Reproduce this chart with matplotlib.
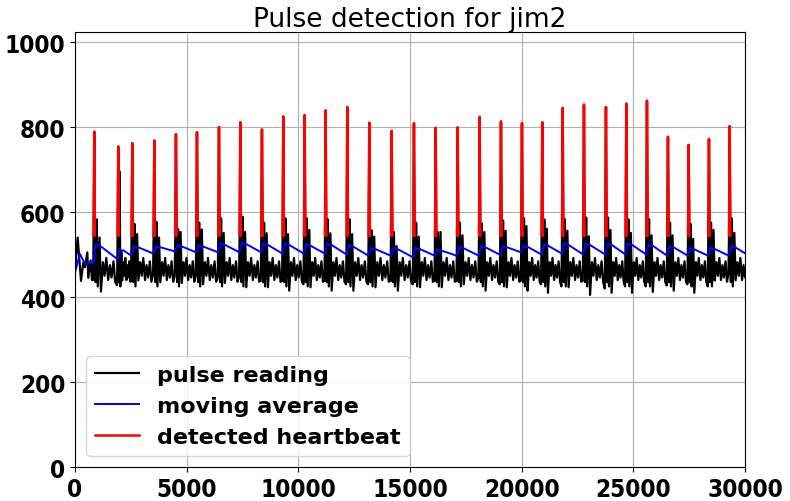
import numpy as np
import matplotlib
matplotlib.use("Agg")
import matplotlib.pyplot as plt
from matplotlib import font_manager as fm

# peak positions (ms) and heights
peak_t = [864, 1939, 2566, 3551, 4522, 5463, 6448, 7402, 8373, 9327,
          10285, 11225, 12193, 13178, 14181, 15179, 16151, 17136, 18121, 19075,
          20015, 20924, 21838, 22791, 23776, 24686, 25612, 26552, 27479, 28388,
          29315]
peak_v = [789, 754, 762, 768, 783, 788, 800, 811, 794, 825,
          828, 839, 847, 810, 791, 809, 798, 799, 824, 813,
          809, 811, 845, 853, 847, 855, 862, 777, 758, 772,
          802]
# black spike right after each red peak
spike_v = [583, 695, 572, 577, 560, 575, 585, 589, 575, 585,
           585, 583, 583, 557, 553, 575, 553, 575, 573, 580,
           585, 583, 583, 587, 587, 583, 583, 575, 572, 575,
           585]
# second black wave
wave_v = [540, 505, 548, 540, 553, 559, 551, 553, 550, 548,
          558, 550, 548, 542, 520, 542, 553, 545, 553, 556,
          567, 561, 556, 543, 558, 551, 545, 545, 537, 558,
          551]
# deepest trough of each beat
low_v = [413, 439, 439, 435, 433, 430, 433, 423, 423, 415,
         423, 415, 415, 423, 415, 423, 423, 430, 415, 423,
         415, 410, 423, 405, 410, 410, 412, 415, 410, 439,
         439]
# small bumps in the rest of a beat (shared shape)
tail_frac = [0.36, 0.43, 0.5, 0.58, 0.65, 0.72, 0.8, 0.87]
tail_v = [482, 450, 492, 440, 475, 446, 484, 436]

# trace before the first beat
start_t = [0, 120, 270, 373, 448, 552, 597, 701, 761]
start_v = [458, 540, 438, 481, 470, 505, 445, 486, 440]

# moving average: level right after each beat and just before it
ma_hi = [525, 513, 521, 521, 523, 523, 527, 529, 527, 527,
         525, 527, 523, 517, 517, 517, 513, 519, 521, 521,
         522, 525, 527, 527, 527, 527, 525, 521, 516, 517,
         521]
ma_lo = [480, 489, 497, 502, 507, 505, 505, 505, 505, 502,
         502, 502, 500, 497, 497, 493, 497, 497, 497, 499,
         505, 500, 502, 500, 500, 500, 500, 497, 497, 497,
         497]
ma_start_t = [0, 225, 450, 700]
ma_start_v = [459, 501, 478, 482]
ma_end = 503
red_base = 545


def pick_font(weight):
    prop = fm.FontProperties(family="DejaVu Sans", stretch="condensed", weight=weight)
    path = fm.findfont(prop, fallback_to_default=True)
    if "Condensed" in path:
        return prop
    return fm.FontProperties(family="Liberation Sans Narrow", weight=weight)


# build the traces
pulse_t, pulse_v = list(start_t), list(start_v)
red_t, red_v = [], []
ma_t, ma_v = list(ma_start_t), list(ma_start_v)
n = len(peak_t)
for i in range(n):
    t = peak_t[i]
    gap = (peak_t[i + 1] - t) if i + 1 < n else 955
    pulse_t += [t - 55, t - 30, t, t + 30]
    pulse_v += [low_v[i - 1] + 15 if i else 440, red_base, peak_v[i], red_base]
    fr = [0.055, 0.1, 0.145, 0.22, 0.277] + tail_frac
    vals = [435, spike_v[i], 425, wave_v[i], low_v[i]] + tail_v
    for f, v in zip(fr, vals):
        pulse_t.append(t + f * gap)
        pulse_v.append(v)
    red_t += [t - 30, t, t + 30, np.nan]
    red_v += [red_base, peak_v[i], red_base, np.nan]
    ma_t += [t - 30, t + 70, t + 160, t + 220]
    ma_v += [ma_lo[i], ma_hi[i], ma_hi[i] - 5, ma_hi[i] - 3]
ma_t.append(30000)
ma_v.append(ma_end)

fig = plt.figure(figsize=(7.9, 5.02), dpi=100)
ax = fig.add_axes([0.0949, 0.0677, 0.8481, 0.866])
ax.plot(pulse_t, pulse_v, color="black", lw=1.6, label="pulse reading")
ax.plot(ma_t, ma_v, color="blue", lw=1.4, label="moving average")
ax.plot(red_t, red_v, color="red", lw=1.8, label="detected heartbeat")

ax.set_xlim(0, 30000)
ax.set_ylim(0, 1023)
ax.set_xticks([0, 5000, 10000, 15000, 20000, 25000, 30000])
ax.set_yticks([0, 200, 400, 600, 800, 1000])
ax.grid(True, color="#b0b0b0", lw=0.8)

tick_font = pick_font("bold")
tick_font.set_size(17.5)
for lab in ax.get_xticklabels() + ax.get_yticklabels():
    lab.set_fontproperties(tick_font)

ax.set_title("Pulse detection for jim2", fontsize=19, pad=4.5)

ax.legend(loc="lower left", prop={"size": 16, "weight": "bold"})

fig.savefig("out.png", dpi=100)
